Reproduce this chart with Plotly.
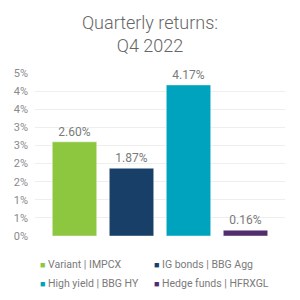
import plotly.graph_objects as go

series_names = ["Variant | IMPCX", "IG bonds | BBG Agg", "High yield | BBG HY", "Hedge funds | HFRXGL"]
series_values = [2.60, 1.87, 4.17, 0.16]
series_colors = ["#8DC63F", "#173F67", "#00A3BE", "#522D6E"]
legend_column = ["legend", "legend2", "legend", "legend2"]
category = ["Q4 2022"]
tick_values = [0, 0.5, 1, 1.5, 2, 2.5, 3, 3.5, 4, 4.5]
tick_labels = ["0%", "1%", "1%", "2%", "2%", "3%", "3%", "4%", "4%", "5%"]

fig = go.Figure()
for name, val, col in zip(series_names, series_values, series_colors):
    fig.add_trace(go.Bar(
        x=category, y=[val], name=name, marker=dict(color=col, line=dict(color="rgba(255,255,255,0.45)", width=1)),
        texttemplate="%{y:.2f}%", textposition="outside", cliponaxis=False,
        textfont=dict(family="Roboto", size=12, color="#7a7a7a"), showlegend=False,
    ))
for name, col, lg in zip(series_names, series_colors, legend_column):
    fig.add_trace(go.Scatter(
        x=[None], y=[None], mode="markers", marker=dict(color="rgba(0,0,0,0)", size=1),
        name=f"<span style='color:{col};font-size:9px'>■</span> {name}", showlegend=True, legend=lg,
    ))

legend_style = dict(orientation="v", xref="container", xanchor="left", yref="container", y=0.17, yanchor="top",
                    itemwidth=30, font=dict(family="Roboto", size=10.5, color="#7a7a7a"),
                    tracegroupgap=0, itemclick=False, bgcolor="rgba(0,0,0,0)")

fig.update_layout(
    width=300, height=300,
    margin=dict(l=35, r=15, t=73, b=64, autoexpand=False),
    paper_bgcolor="white", plot_bgcolor="white",
    barmode="group", bargap=0.088, bargroupgap=0.22,
    title=dict(text="Quarterly returns:<br>Q4 2022", x=0.5, xanchor="center", y=0.905, yanchor="middle",
               font=dict(family="Roboto", size=18, color="#666666", weight=300)),
    font=dict(family="Roboto", color="#7a7a7a"),
    xaxis=dict(showticklabels=False, showgrid=False, zeroline=False, showline=False, fixedrange=True),
    yaxis=dict(range=[0, 4.5], tickvals=tick_values, ticktext=tick_labels, showgrid=True,
               gridcolor="#eeeeee", gridwidth=1, zeroline=False, showline=False,
               tickfont=dict(family="Roboto", size=11, color="#8a8a8a"), ticks="", ticklabelstandoff=6),
    legend=dict(x=0, **legend_style),
    legend2=dict(x=0.38, **legend_style),
)

fig.write_html("out.html")
